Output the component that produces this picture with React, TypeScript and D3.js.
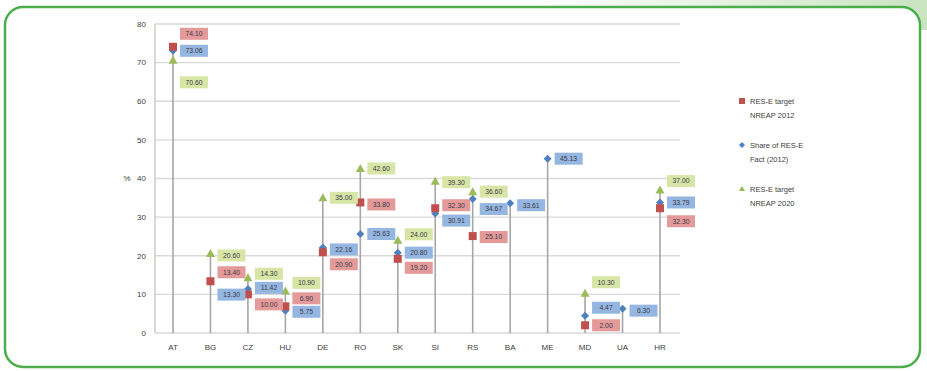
import React from "react";
import * as d3 from "d3";

// Countries along the x axis
const categories = ["AT", "BG", "CZ", "HU", "DE", "RO", "SK", "SI", "RS", "BA", "ME", "MD", "UA", "HR"];

// RES-E target, NREAP 2012 (%)
const target2012: (number | null)[] = [74.1, 13.4, 10.0, 6.9, 20.9, 33.8, 19.2, 32.3, 25.1, null, null, 2.0, null, 32.3];
// Share of RES-E, fact 2012 (%)
const share2012: (number | null)[] = [73.06, 13.3, 11.42, 5.75, 22.16, 25.63, 20.8, 30.91, 34.67, 33.61, 45.13, 4.47, 6.3, 33.79];
// RES-E target, NREAP 2020 (%)
const target2020: (number | null)[] = [70.6, 20.6, 14.3, 10.9, 35.0, 42.6, 24.0, 39.3, 36.6, null, null, 10.3, null, 37.0];

const yTicks = [0, 10, 20, 30, 40, 50, 60, 70, 80];

// Vertical nudges (px) for the value boxes so they do not collide
const nudge2012 = [-13, -9, 10, -8, 12, 2, 9, -3, 1, 0, 0, 0, 0, 13];
const nudgeShare = [0, 13, -1, 1, 2, 0, 0, 7, 10, 2, 0, -8, 2, 0];
const nudge2020 = [22, 2, -4, -8, 0, 0, -6, 1, 0, 0, 0, -11, 0, -9];

const RED = "#c0504d";
const BLUE = "#4f81bd";
const GREEN = "#9bbb59";
const RED_BOX = "#e49a99";
const BLUE_BOX = "#95b6e0";
const GREEN_BOX = "#d8e5a6";

const FONT = "'Liberation Sans', Arial, sans-serif";

export default function App() {
  const x = d3.scalePoint<string>().domain(categories).range([173, 660]).padding(0);
  const y = d3.scaleLinear().domain([0, 80]).range([333, 24]);

  const series = [
    { key: "sh", values: share2012, nudge: nudgeShare, color: BLUE, box: BLUE_BOX },
    { key: "t20", values: target2020, nudge: nudge2020, color: GREEN, box: GREEN_BOX },
    { key: "t12", values: target2012, nudge: nudge2012, color: RED, box: RED_BOX },
  ];

  const marker = (key: string, cx: number, cy: number, color: string) => {
    if (key === "t12") return <rect x={cx - 4} y={cy - 4} width={8} height={8} fill={color} />;
    if (key === "sh")
      return (
        <path d={`M${cx},${cy - 4}L${cx + 4},${cy}L${cx},${cy + 4}L${cx - 4},${cy}Z`} fill={color} />
      );
    return <path d={`M${cx},${cy - 4.5}L${cx + 4.5},${cy + 3.5}L${cx - 4.5},${cy + 3.5}Z`} fill={color} />;
  };

  return (
    <svg width={927} height={371} style={{ position: "absolute", left: 0, top: 0 }} fontFamily={FONT}>
      <defs>
        <linearGradient id="corner" x1="0" x2="1" y1="0" y2="0">
          <stop offset="0" stopColor="#ffffff" />
          <stop offset="1" stopColor="#c9e4c1" />
        </linearGradient>
      </defs>
      <rect x={0} y={0} width={927} height={371} fill="#ffffff" />
      <rect x={540} y={0} width={387} height={30} fill="url(#corner)" />
      <rect x={5} y={7} width={915} height={360} rx={18} ry={18} fill="#ffffff" stroke="#4cae4a" strokeWidth={2.5} />

      {/* gridlines and y axis */}
      {yTicks.map((t) => (
        <g key={t}>
          <line x1={155} x2={680} y1={y(t)} y2={y(t)} stroke="#d9d9d9" strokeWidth={1.3} />
          <text x={146} y={y(t)} dy="0.35em" textAnchor="end" fontSize={8} fill="#404040">
            {t}
          </text>
        </g>
      ))}
      <line x1={155} x2={155} y1={y(80)} y2={y(0)} stroke="#bfbfbf" strokeWidth={1.2} />
      <text x={127} y={y(40)} dy="0.35em" textAnchor="middle" fontSize={8} fill="#404040">
        %
      </text>

      {/* category labels */}
      {categories.map((c) => (
        <text key={c} x={x(c)} y={350} textAnchor="middle" fontSize={8} fill="#404040">
          {c}
        </text>
      ))}

      {/* drop lines from the highest value to the axis */}
      {categories.map((c, i) => {
        const vals = [target2012[i], share2012[i], target2020[i]].filter((v) => v != null) as number[];
        const top = d3.max(vals) ?? 0;
        return (
          <line key={c} x1={x(c)} x2={x(c)} y1={y(top)} y2={y(0)} stroke="#a6a6a6" strokeWidth={1.6} />
        );
      })}

      {/* markers */}
      {series.map((s) =>
        categories.map((c, i) => {
          const v = s.values[i];
          if (v == null) return null;
          return <g key={s.key + c}>{marker(s.key, x(c)!, y(v), s.color)}</g>;
        })
      )}

      {/* value boxes */}
      {series.map((s) =>
        categories.map((c, i) => {
          const v = s.values[i];
          if (v == null) return null;
          const cx = x(c)! + 7;
          const cy = y(v) + s.nudge[i];
          return (
            <g key={"l" + s.key + c}>
              <rect x={cx} y={cy - 6} width={28} height={12} fill={s.box} />
              <text x={cx + 14} y={cy} dy="0.35em" textAnchor="middle" fontSize={6.8} fill="#3a3a4a">
                {v.toFixed(2)}
              </text>
            </g>
          );
        })
      )}

      {/* legend */}
      <g fontSize={7.5} fill="#404040">
        <rect x={739} y={98} width={6} height={6} fill={RED} />
        <text x={750} y={101} dy="0.35em">RES-E target</text>
        <text x={750} y={115} dy="0.35em">NREAP 2012</text>
        <path d="M742,142L745,145L742,148L739,145Z" fill={BLUE} />
        <text x={750} y={145} dy="0.35em">Share of RES-E</text>
        <text x={750} y={159} dy="0.35em">Fact (2012)</text>
        <path d="M742,186L745,191L739,191Z" fill={GREEN} />
        <text x={750} y={189} dy="0.35em">RES-E target</text>
        <text x={750} y={203} dy="0.35em">NREAP 2020</text>
      </g>
    </svg>
  );
}
